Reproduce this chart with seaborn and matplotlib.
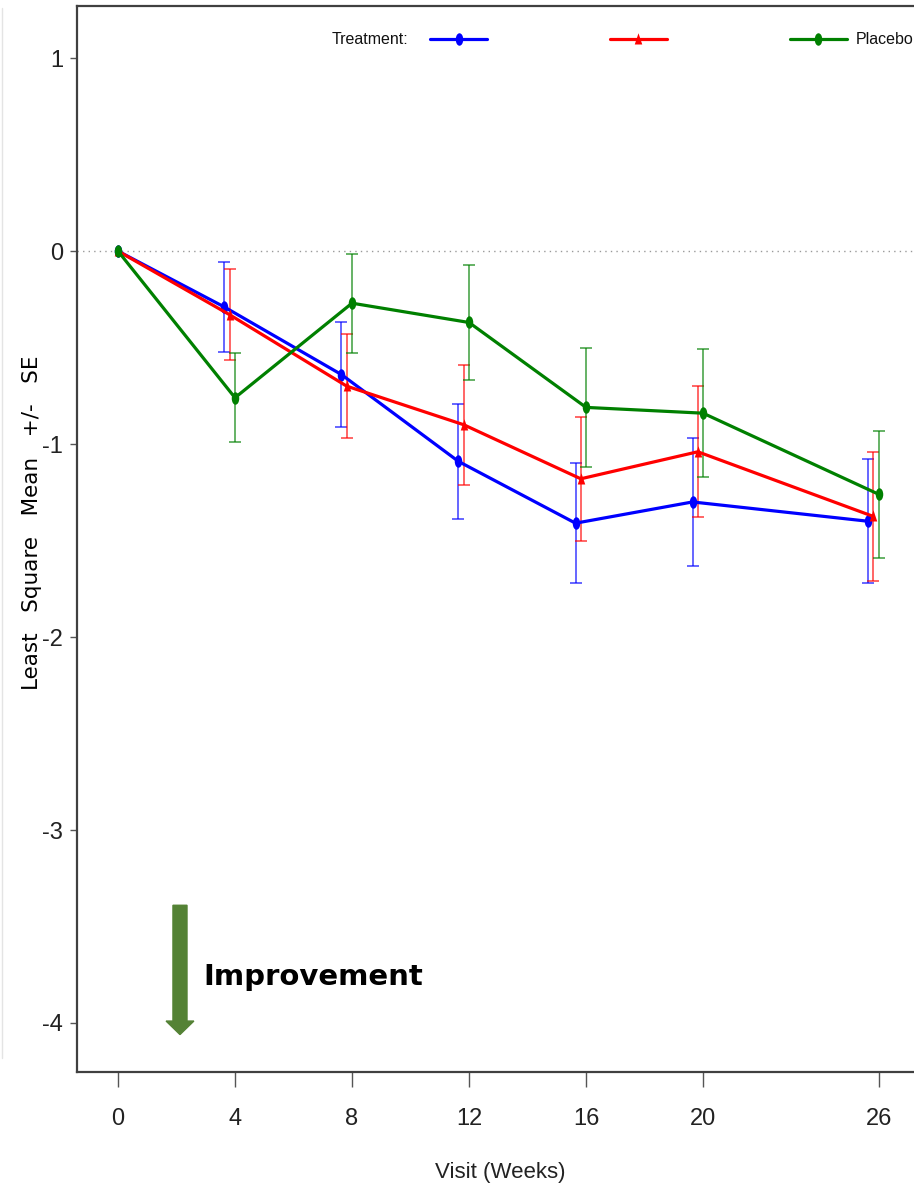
import numpy as np
import pandas as pd
import matplotlib
matplotlib.use("Agg")
import matplotlib.pyplot as plt
import seaborn as sns
from matplotlib.path import Path
from matplotlib.markers import MarkerStyle
from matplotlib.transforms import Affine2D
from matplotlib.lines import Line2D

# ---------------- data ----------------
weeks = [0, 4, 8, 12, 16, 20, 26]
week_labels = ["0", "4", "8", "12", "16", "20", "26"]
treatments = ["Treatment A", "Treatment B", "Placebo"]
legend_labels = ["", "", "Placebo"]          # first two labels are blank (redacted) in the source

mean_a = [0.0, -0.29, -0.64, -1.09, -1.41, -1.30, -1.40]
se_a = [0.0, 0.235, 0.27, 0.30, 0.31, 0.33, 0.32]
mean_b = [0.0, -0.33, -0.70, -0.90, -1.18, -1.04, -1.375]
se_b = [0.0, 0.236, 0.27, 0.31, 0.32, 0.34, 0.335]
mean_p = [0.0, -0.76, -0.27, -0.37, -0.81, -0.84, -1.26]
se_p = [0.0, 0.23, 0.257, 0.30, 0.31, 0.33, 0.33]

y_ticks = [1, 0, -1, -2, -3, -4]

# ---------------- styling ----------------
colors = {"Treatment A": "#0000FF", "Treatment B": "#FF0000", "Placebo": "#008000"}
dodge = {"Treatment A": -0.36, "Treatment B": -0.18, "Placebo": 0.0}

ellipse = Path.unit_circle().transformed(Affine2D().scale(0.6, 1.0))
tri = Path([(0, 1), (-0.6, -0.8), (0.6, -0.8), (0, 1)],
           [Path.MOVETO, Path.LINETO, Path.LINETO, Path.CLOSEPOLY])
markers = {"Treatment A": MarkerStyle(ellipse), "Treatment B": MarkerStyle(tri),
           "Placebo": MarkerStyle(ellipse)}

means = {"Treatment A": mean_a, "Treatment B": mean_b, "Placebo": mean_p}
ses = {"Treatment A": se_a, "Treatment B": se_b, "Placebo": se_p}

rows = []
for t in treatments:
    for w, m, s in zip(weeks, means[t], ses[t]):
        xpos = w + (dodge[t] if w > 0 else 0.0)
        rows.append({"trt": t, "week": w, "xpos": xpos, "mean": m, "se": s})
df = pd.DataFrame(rows)

sns.set_theme(style="white")
narrow = ["Liberation Sans", "DejaVu Sans"]

W, H = 914, 1193
fig = plt.figure(figsize=(W / 100, H / 100), dpi=100)
ax = fig.add_axes([77 / W, 1 - 1072 / H, (W - 77) / W, (1072 - 6) / H])

# zero reference line
ax.axhline(0, color="#9a9a9a", lw=1.0, ls=(0, (1, 3)), zorder=1)

# error bars
for t in treatments:
    sub = df[(df.trt == t) & (df.se > 0)]
    ax.errorbar(sub.xpos, sub["mean"], yerr=sub.se, fmt="none",
                ecolor=colors[t], alpha=0.65, elinewidth=1.3,
                capsize=4.5, capthick=1.3, zorder=2)

# lines + markers
sns.lineplot(data=df, x="xpos", y="mean", hue="trt", style="trt",
             hue_order=treatments, style_order=treatments,
             palette=colors, markers=markers, dashes=False,
             linewidth=2.3, markersize=9, markeredgewidth=0,
             legend=False, ax=ax, zorder=3, sort=False)

# axes
ax.set_xlim(-1.40, 27.21)
ax.set_ylim(-4.254, 1.27)
ax.set_xticks(weeks)
ax.set_xticklabels(week_labels)
ax.set_yticks(y_ticks)
ax.set_yticklabels([str(v) for v in y_ticks])
for lab in ax.get_xticklabels() + ax.get_yticklabels():
    lab.set_fontfamily(narrow)
    lab.set_fontsize(17)
    lab.set_color("#222222")
ax.tick_params(axis="x", which="both", bottom=True, length=11, width=1.0,
               color="#555555", pad=15, direction="out")
ax.tick_params(axis="y", which="both", left=True, length=5, width=1.0,
               color="#555555", pad=5, direction="out")
for side in ["left", "bottom", "top"]:
    ax.spines[side].set_visible(True)
    ax.spines[side].set_color("#404040")
    ax.spines[side].set_linewidth(1.6)
ax.spines["right"].set_visible(False)
ax.grid(False)

ax.set_xlabel("Visit (Weeks)", fontfamily=narrow, fontsize=16, color="#222222")
ax.xaxis.set_label_coords((500 - 77) / (W - 77), (1072 - 1162) / (1072 - 6))
ax.set_ylabel("Least   Square   Mean   +/-   SE", fontfamily="DejaVu Sans",
              fontsize=15.5, color="black")
ax.yaxis.set_label_coords((42 - 77) / (W - 77), (1072 - 523) / (1072 - 6))

# legend
handles = [Line2D([], [], color=colors[t], lw=2.3, marker=markers[t],
                  markersize=9, markeredgewidth=0) for t in treatments]
leg = ax.legend(handles, legend_labels, ncol=3, loc="center left",
                bbox_to_anchor=(430 / W, 1 - 40 / H), bbox_transform=fig.transFigure,
                frameon=False, fontsize=11.5, handlelength=3.57, handletextpad=0.56,
                columnspacing=7.13, borderpad=0, borderaxespad=0)
for txt in leg.get_texts():
    txt.set_fontfamily(narrow)
    txt.set_color("#111111")
fig.text(332 / W, 1 - 40 / H, "Treatment:", fontfamily=narrow, fontsize=11.5,
         ha="left", va="center", color="#111111")

# improvement arrow and text
ax.arrow(2.12, -3.39, 0, -0.67, width=0.48, head_width=0.95, head_length=0.07,
         length_includes_head=True, color="#548235", zorder=4)
ax.text((203 - 118) / 29.25, -(977 - 251) / 193, "Improvement", fontfamily="DejaVu Sans",
        fontweight="bold", fontsize=21, ha="left", va="center", color="black")

# faint left border of the original frame
fig.add_artist(Line2D([1.5 / W, 1.5 / W], [1 - 1058 / H, 1 - 8 / H],
                      transform=fig.transFigure, color="#e4e4e4", lw=1))

fig.savefig("out.png", dpi=100)
